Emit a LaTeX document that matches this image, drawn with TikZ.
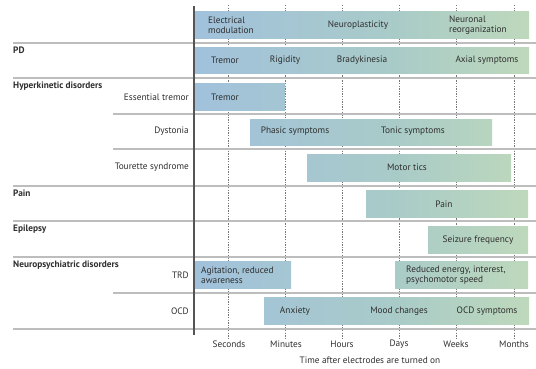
\documentclass[tikz,border=0pt]{standalone}
\usepackage{fontspec}
\setmainfont{PT Sans}
\usetikzlibrary{positioning}
\definecolor{cblue}{HTML}{9FBFE0}
\definecolor{cteal}{HTML}{A9CBC8}
\definecolor{cgreen}{HTML}{C3DCB8}
\definecolor{ctext}{HTML}{2E2E2E}
\definecolor{csep}{HTML}{BDBDBD}
\definecolor{caxis}{HTML}{555555}
\pgfdeclarehorizontalshading{barshade}{100bp}{color(0bp)=(cblue); color(18bp)=(cblue); color(55bp)=(cteal); color(80bp)=(cgreen); color(100bp)=(cgreen)}
\newcommand\gbar[4]{\begin{scope}\clip (#1,#2) rectangle (#3,#4);\shade[shading=barshade] (195,#2) rectangle (529,#4);\end{scope}}
\begin{document}
\begin{tikzpicture}[x=1pt,y=-1pt,
  every node/.style={text=ctext,font=\fontsize{9.3}{10.4}\selectfont,inner sep=0pt},
  cat/.style={anchor=west,font=\fontsize{9.3}{10.4}\selectfont\bfseries},
  sub/.style={anchor=east},
  lbl/.style={anchor=center},
  lbll/.style={anchor=west,align=left},
  sep/.style={draw=csep,line width=1.3pt},
  grid/.style={draw=caxis!80,line width=0.5pt,dash pattern=on 1.3pt off 1.3pt},
  tick/.style={anchor=center}]
\useasboundingbox (0,0) rectangle (536,368);
% grid lines
\foreach \x/\n in {228/g1,285/g2,342/g3,399/g4,456/g5,514/g6}{
  \coordinate (\n t) at (\x,5); \coordinate (\n b) at (\x,339);
  \draw[grid] (\n t) -- (\n b);}
% separators
\coordinate (s1a) at (13,43);  \coordinate (s1b) at (536,43);
\coordinate (s2a) at (13,78);  \coordinate (s2b) at (536,78);
\coordinate (s3a) at (113,114); \coordinate (s3b) at (536,114);
\coordinate (s4a) at (113,149); \coordinate (s4b) at (536,149);
\coordinate (s5a) at (13,186); \coordinate (s5b) at (536,186);
\coordinate (s6a) at (13,221); \coordinate (s6b) at (536,221);
\coordinate (s7a) at (13,257); \coordinate (s7b) at (536,257);
\coordinate (s8a) at (113,293); \coordinate (s8b) at (536,293);
\coordinate (s9a) at (13,329); \coordinate (s9b) at (536,329);
\foreach \i in {1,...,9}{\draw[sep] (s\i a) -- (s\i b);}
% bars
\gbar{195}{11}{529}{38}
\gbar{195}{47}{529}{73}
\gbar{195}{83}{285}{110}
\gbar{250}{119}{492}{145}
\gbar{307}{154}{511}{181}
\gbar{366}{190}{528}{217}
\gbar{428}{226}{528}{253}
\gbar{195}{261}{291}{288}
\gbar{395}{261}{528}{288}
\gbar{264}{297}{529}{324}
% axis
\coordinate (axt) at (194,6); \coordinate (axb) at (194,335);
\draw[caxis,line width=1.1pt] (axt) -- (axb);
% header texts
\node[lbll] (em) at (208,25) {Electrical\\modulation};
\node[lbl] (np) at (358,25) {Neuroplasticity};
\node[lbll] (nr) at (449,25) {Neuronal\\reorganization};
% category labels
\node[cat] (pd) at (13,50) {PD};
\node[cat] (hk) at (13,86) {Hyperkinetic disorders};
\node[cat] (pn) at (13,193) {Pain};
\node[cat] (ep) at (13,229) {Epilepsy};
\node[cat] (nd) at (13,265) {Neuropsychiatric disorders};
\node[sub] (et) at (189,97) {Essential tremor};
\node[sub] (dy) at (189,131) {Dystonia};
\node[sub] (ts) at (189,167) {Tourette syndrome};
\node[sub] (trd) at (189,275) {TRD};
\node[sub] (ocd) at (189,311) {OCD};
% bar labels
\node[lbl] (pd1) at (225,60) {Tremor};
\node[lbl] (pd2) at (285,60) {Rigidity};
\node[lbl] (pd3) at (362,60) {Bradykinesia};
\node[lbl] (pd4) at (487,60) {Axial symptoms};
\node[lbl] (et1) at (225,97) {Tremor};
\node[lbl] (dy1) at (295,131) {Phasic symptoms};
\node[lbl] (dy2) at (413,131) {Tonic symptoms};
\node[lbl] (ts1) at (407,167) {Motor tics};
\node[lbl] (pn1) at (444,204) {Pain};
\node[lbl] (ep1) at (478,240) {Seizure frequency};
\node[lbll] (trd1) at (201,275) {Agitation, reduced\\awareness};
\node[lbll] (trd2) at (406,275) {Reduced energy, interest,\\psychomotor speed};
\node[lbl] (ocd1) at (295,311) {Anxiety};
\node[lbl] (ocd2) at (399,311) {Mood changes};
\node[lbl] (ocd3) at (487,311) {OCD symptoms};
% ticks
\node[tick] (t1) at (229,344) {Seconds};
\node[tick] (t2) at (286,344) {Minutes};
\node[tick] (t3) at (342,344) {Hours};
\node[tick] (t4) at (399,344) {Days};
\node[tick] (t5) at (456,344) {Weeks};
\node[tick] (t6) at (514,344) {Months};
\node[tick] (ttl) at (370,360) {Time after electrodes are turned on};
\end{tikzpicture}
\end{document}
